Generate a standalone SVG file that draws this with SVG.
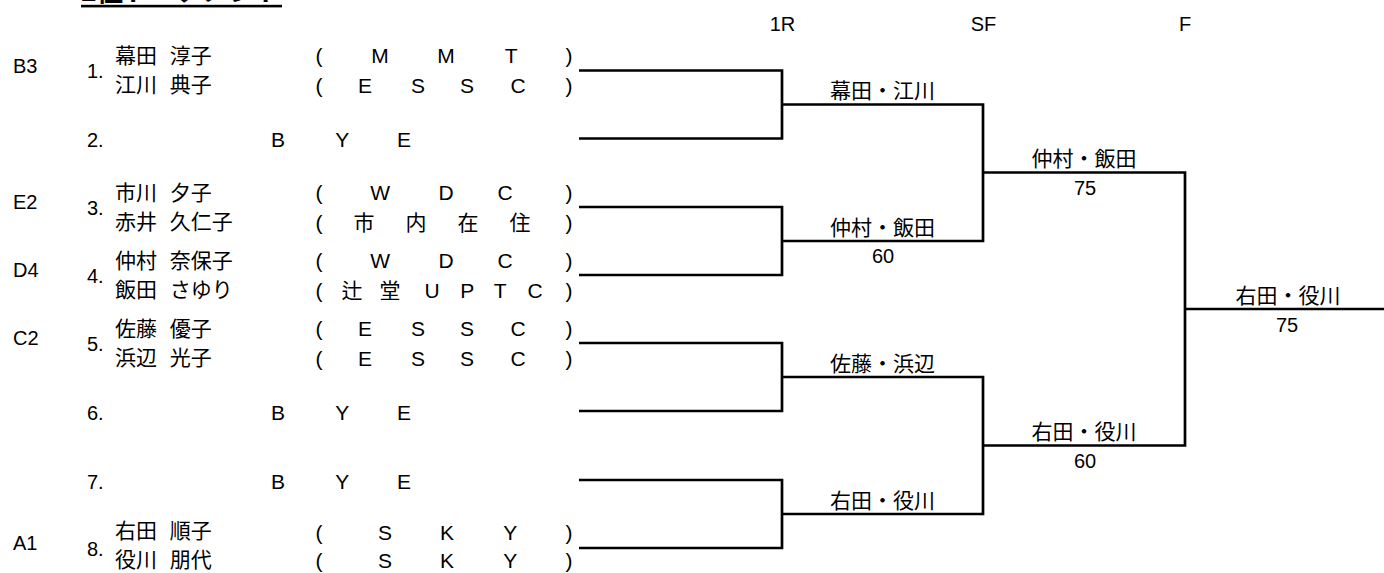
<svg xmlns="http://www.w3.org/2000/svg" width="1384" height="573" viewBox="0 0 1384 573">
<style>
text{fill:#000}
.lat{font-family:"Liberation Sans",Arial,"Noto Sans CJK JP",sans-serif;font-size:20px}
.nm{font-family:"Noto Sans CJK JP",sans-serif;font-size:21px;word-spacing:8px}
.pr{font-family:"Liberation Sans",Arial,"Noto Sans CJK JP",sans-serif;font-size:21px;text-anchor:middle}
.lb{font-family:"Noto Sans CJK JP",sans-serif;font-size:21px;text-anchor:middle}
.sc{font-family:"Liberation Sans",Arial,sans-serif;font-size:20px;text-anchor:middle}
.hd{font-family:"Liberation Sans",Arial,sans-serif;font-size:20px;text-anchor:middle}
.br{fill:none;stroke:#000;stroke-width:2.7;stroke-linejoin:miter;stroke-linecap:butt}
</style>
<rect width="1384" height="573" fill="#fff"/>
<g id="title">
<text x="81" y="1" font-family="Noto Sans CJK JP,sans-serif" font-size="26" font-weight="bold" textLength="201" lengthAdjust="spacingAndGlyphs">2位トーナメント</text>
<rect x="81" y="4.8" width="201" height="2.6" fill="#000"/>
</g>
<g id="headers">
<text class="hd" x="782.5" y="31">1R</text>
<text class="hd" x="983.5" y="31">SF</text>
<text class="hd" x="1185" y="31">F</text>
</g>
<g id="connectors">
<path class="br" d="M579 70.5H782V138.5H579"/>
<path class="br" d="M579 207H782V275H579"/>
<path class="br" d="M579 343H782V411H579"/>
<path class="br" d="M579 480H782V548H579"/>
<path class="br" d="M782 104.5H983V241H782"/>
<path class="br" d="M782 377H983V514H782"/>
<path class="br" d="M983 172.5H1185V445.5H983"/>
<path class="br" d="M1185 309H1384"/>
</g>
<g id="entry1">
<text class="lat" x="13" y="72.5">B3</text>
<text class="lat" x="87" y="78">1.</text>
<text class="nm" x="115" y="63">幕田 淳子</text>
<text class="nm" x="115" y="92">江川 典子</text>
<text class="pr" y="63"><tspan x="322">(</tspan> <tspan x="383">M</tspan> <tspan x="449">M</tspan> <tspan x="514">T</tspan> <tspan x="569">)</tspan></text>
<text class="pr" y="93"><tspan x="322">(</tspan> <tspan x="368">E</tspan> <tspan x="421">S</tspan> <tspan x="470">S</tspan> <tspan x="521">C</tspan> <tspan x="569">)</tspan></text>
</g>
<g id="entry2">
<text class="lat" x="87" y="147">2.</text>
<text class="pr" y="147"><tspan x="281">B</tspan> <tspan x="345">Y</tspan> <tspan x="404">E</tspan></text>
</g>
<g id="entry3">
<text class="lat" x="13" y="209">E2</text>
<text class="lat" x="87" y="214.5">3.</text>
<text class="nm" x="115" y="199.5">市川 夕子</text>
<text class="nm" x="115" y="228.5">赤井 久仁子</text>
<text class="pr" y="199.5"><tspan x="322">(</tspan> <tspan x="383">W</tspan> <tspan x="449">D</tspan> <tspan x="508">C</tspan> <tspan x="569">)</tspan></text>
<text class="pr" y="229.5"><tspan x="322">(</tspan> <tspan x="367">市</tspan> <tspan x="419">内</tspan> <tspan x="471">在</tspan> <tspan x="523">住</tspan> <tspan x="569">)</tspan></text>
</g>
<g id="entry4">
<text class="lat" x="13" y="277">D4</text>
<text class="lat" x="87" y="282.5">4.</text>
<text class="nm" x="115" y="267.5">仲村 奈保子</text>
<text class="nm" x="115" y="296.5">飯田 さゆり</text>
<text class="pr" y="267.5"><tspan x="322">(</tspan> <tspan x="383">W</tspan> <tspan x="449">D</tspan> <tspan x="508">C</tspan> <tspan x="569">)</tspan></text>
<text class="pr" y="297.5"><tspan x="322">(</tspan> <tspan x="355">辻</tspan> <tspan x="393">堂</tspan> <tspan x="435">U</tspan> <tspan x="470">P</tspan> <tspan x="503">T</tspan> <tspan x="538">C</tspan> <tspan x="569">)</tspan></text>
</g>
<g id="entry5">
<text class="lat" x="13" y="345">C2</text>
<text class="lat" x="87" y="350.5">5.</text>
<text class="nm" x="115" y="335.5">佐藤 優子</text>
<text class="nm" x="115" y="364.5">浜辺 光子</text>
<text class="pr" y="335.5"><tspan x="322">(</tspan> <tspan x="368">E</tspan> <tspan x="421">S</tspan> <tspan x="470">S</tspan> <tspan x="521">C</tspan> <tspan x="569">)</tspan></text>
<text class="pr" y="365.5"><tspan x="322">(</tspan> <tspan x="368">E</tspan> <tspan x="421">S</tspan> <tspan x="470">S</tspan> <tspan x="521">C</tspan> <tspan x="569">)</tspan></text>
</g>
<g id="entry6">
<text class="lat" x="87" y="419.5">6.</text>
<text class="pr" y="419.5"><tspan x="281">B</tspan> <tspan x="345">Y</tspan> <tspan x="404">E</tspan></text>
</g>
<g id="entry7">
<text class="lat" x="87" y="488.5">7.</text>
<text class="pr" y="488.5"><tspan x="281">B</tspan> <tspan x="345">Y</tspan> <tspan x="404">E</tspan></text>
</g>
<g id="entry8">
<text class="lat" x="13" y="550">A1</text>
<text class="lat" x="87" y="555.5">8.</text>
<text class="nm" x="115" y="537.5">右田 順子</text>
<text class="nm" x="115" y="566.5">役川 朋代</text>
<text class="pr" y="539.5"><tspan x="322">(</tspan> <tspan x="388">S</tspan> <tspan x="450">K</tspan> <tspan x="513">Y</tspan> <tspan x="569">)</tspan></text>
<text class="pr" y="568"><tspan x="322">(</tspan> <tspan x="388">S</tspan> <tspan x="450">K</tspan> <tspan x="513">Y</tspan> <tspan x="569">)</tspan></text>
</g>
<g id="r1-m1"><text class="lb" x="882.5" y="98">幕田・江川</text></g>
<g id="r1-m2"><text class="lb" x="882.5" y="234.5">仲村・飯田</text><text class="sc" x="883" y="263">60</text></g>
<g id="r1-m3"><text class="lb" x="882.5" y="370.5">佐藤・浜辺</text></g>
<g id="r1-m4"><text class="lb" x="882.5" y="507.5">右田・役川</text></g>
<g id="sf-m1"><text class="lb" x="1084" y="166">仲村・飯田</text><text class="sc" x="1085" y="195">75</text></g>
<g id="sf-m2"><text class="lb" x="1084" y="439">右田・役川</text><text class="sc" x="1085" y="468">60</text></g>
<g id="final"><text class="lb" x="1288" y="302.5">右田・役川</text><text class="sc" x="1287" y="332">75</text></g>
</svg>
